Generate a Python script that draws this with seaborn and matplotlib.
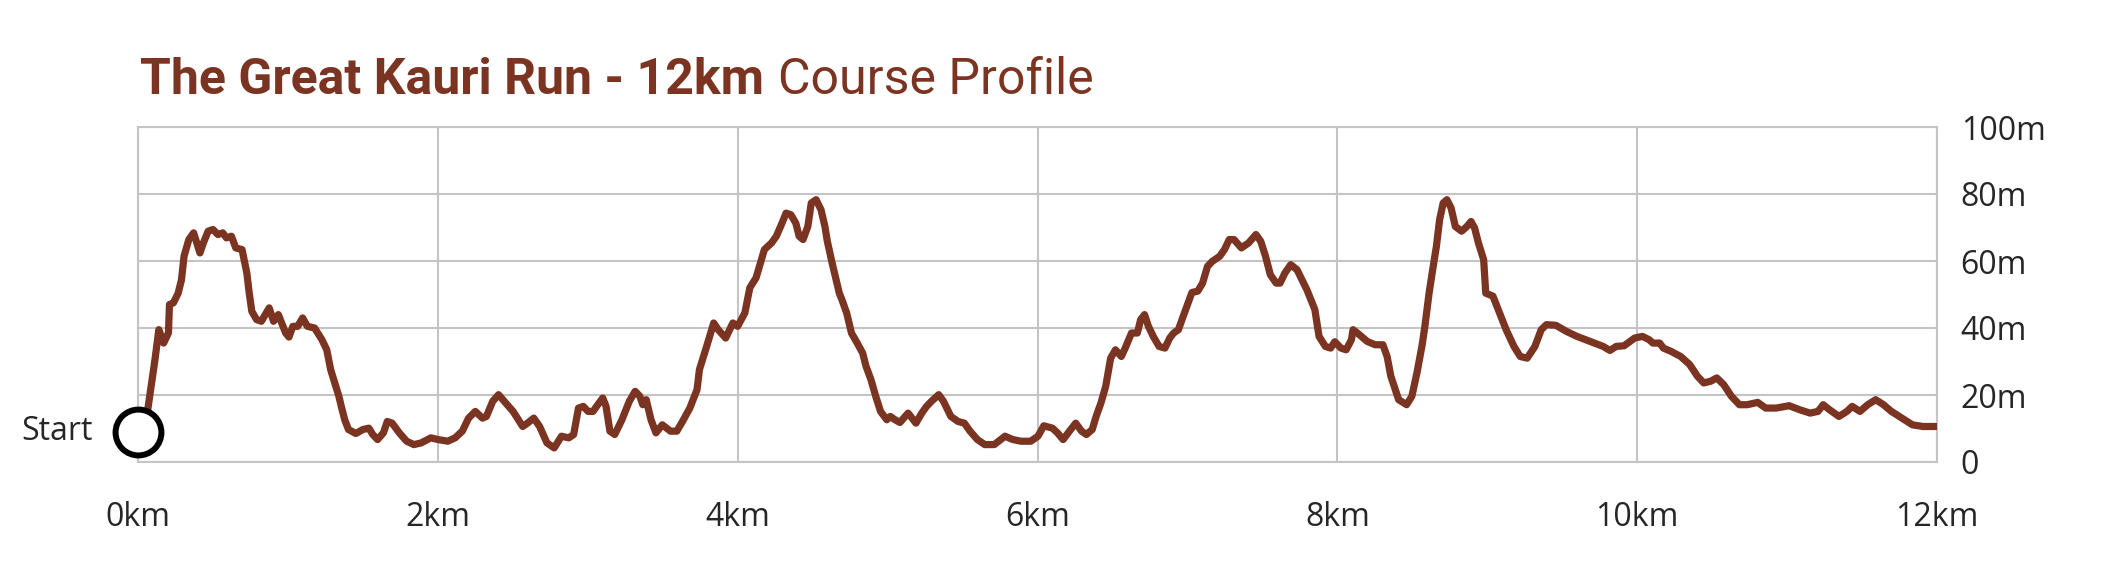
import matplotlib
matplotlib.use("Agg")
import matplotlib.pyplot as plt
import seaborn as sns

# course profile
distance_km = [
    0.0, 0.065, 0.113, 0.139, 0.171, 0.203, 0.21, 0.236, 0.268, 0.29, 0.307, 0.339, 0.371,
    0.413, 0.436, 0.468, 0.5, 0.533, 0.565, 0.59, 0.623, 0.652, 0.694, 0.726, 0.742, 0.759,
    0.791, 0.823, 0.849, 0.875, 0.904, 0.936, 0.985, 1.007, 1.033, 1.065, 1.098, 1.13, 1.178,
    1.227, 1.259, 1.285, 1.34, 1.356, 1.379, 1.404, 1.453, 1.5, 1.54, 1.566, 1.598, 1.637,
    1.663, 1.695, 1.743, 1.792, 1.84, 1.889, 1.953, 2.002, 2.066, 2.115, 2.163, 2.205, 2.25,
    2.298, 2.324, 2.366, 2.405, 2.453, 2.502, 2.566, 2.598, 2.64, 2.679, 2.728, 2.776, 2.825,
    2.873, 2.906, 2.938, 2.97, 3.002, 3.035, 3.067, 3.1, 3.122, 3.148, 3.18, 3.228, 3.277,
    3.316, 3.348, 3.367, 3.39, 3.422, 3.455, 3.497, 3.552, 3.594, 3.632, 3.681, 3.729, 3.745,
    3.793, 3.84, 3.87, 3.92, 3.968, 4.0, 4.048, 4.081, 4.123, 4.152, 4.178, 4.226, 4.258,
    4.291, 4.323, 4.355, 4.388, 4.41, 4.436, 4.468, 4.491, 4.523, 4.556, 4.582, 4.598, 4.63,
    4.678, 4.695, 4.727, 4.759, 4.791, 4.834, 4.856, 4.889, 4.921, 4.953, 4.995, 5.018, 5.05,
    5.082, 5.137, 5.189, 5.228, 5.26, 5.292, 5.341, 5.373, 5.422, 5.47, 5.512, 5.55, 5.599,
    5.648, 5.712, 5.783, 5.835, 5.89, 5.955, 6.003, 6.042, 6.1, 6.133, 6.171, 6.213, 6.255,
    6.294, 6.326, 6.365, 6.391, 6.423, 6.455, 6.488, 6.52, 6.559, 6.585, 6.627, 6.666, 6.688,
    6.714, 6.74, 6.772, 6.811, 6.85, 6.882, 6.908, 6.94, 6.972, 7.005, 7.03, 7.069, 7.101,
    7.134, 7.166, 7.215, 7.247, 7.279, 7.311, 7.36, 7.408, 7.457, 7.489, 7.521, 7.553, 7.592,
    7.618, 7.65, 7.689, 7.731, 7.797, 7.85, 7.878, 7.92, 7.955, 7.983, 8.024, 8.059, 8.094,
    8.105, 8.147, 8.199, 8.252, 8.304, 8.332, 8.357, 8.409, 8.462, 8.497, 8.531, 8.566, 8.584,
    8.612, 8.636, 8.661, 8.682, 8.706, 8.731, 8.759, 8.787, 8.829, 8.864, 8.892, 8.916, 8.941,
    8.976, 8.99, 9.038, 9.073, 9.126, 9.178, 9.22, 9.266, 9.318, 9.36, 9.395, 9.458, 9.528,
    9.598, 9.685, 9.773, 9.818, 9.86, 9.913, 9.983, 10.035, 10.08, 10.105, 10.15, 10.175,
    10.227, 10.29, 10.35, 10.402, 10.444, 10.49, 10.531, 10.577, 10.629, 10.682, 10.734,
    10.804, 10.857, 10.927, 11.014, 11.084, 11.154, 11.206, 11.241, 11.283, 11.346, 11.399,
    11.434, 11.486, 11.538, 11.591, 11.643, 11.696, 11.766, 11.836, 11.906, 11.993,
]
elevation_m = [
    9.0, 15.6, 30.5, 39.5, 35.5, 38.5, 47.0, 47.5, 50.4, 54.4, 61.4, 66.4, 68.4,
    62.4, 65.4, 68.9, 69.4, 67.9, 68.4, 66.9, 67.4, 63.9, 63.4, 56.4, 50.4, 45.0,
    42.5, 42.0, 44.0, 46.0, 42.0, 44.0, 38.5, 37.3, 40.5, 40.5, 43.0, 40.5, 40.0,
    36.5, 33.5, 27.6, 19.6, 16.6, 12.6, 9.7, 8.5, 9.7, 10.1, 8.2, 6.7, 8.7,
    12.1, 11.6, 8.7, 6.2, 5.2, 5.7, 7.2, 6.7, 6.2, 7.2, 9.2, 13.1, 15.1,
    13.1, 13.6, 18.1, 20.1, 17.6, 15.1, 10.6, 11.6, 13.1, 10.6, 5.7, 4.2, 7.7,
    7.2, 8.2, 16.1, 16.6, 15.1, 15.1, 17.1, 19.1, 16.6, 9.2, 8.2, 12.6, 18.1,
    21.1, 19.6, 17.1, 18.6, 12.6, 8.7, 11.1, 9.2, 9.2, 12.1, 16.1, 21.6, 27.6,
    34.5, 41.5, 39.5, 37.0, 41.5, 40.5, 44.5, 52.0, 55.0, 59.4, 63.4, 65.4, 67.4,
    70.8, 74.3, 73.8, 71.3, 67.4, 66.4, 70.3, 77.3, 78.3, 75.3, 70.3, 65.9, 59.4,
    50.4, 48.5, 44.5, 38.5, 36.0, 32.5, 28.6, 24.6, 19.6, 15.1, 12.6, 13.6, 12.6,
    11.8, 14.6, 11.6, 14.6, 16.6, 18.1, 20.1, 18.1, 13.6, 12.1, 11.6, 9.2, 6.7,
    5.2, 5.2, 7.7, 6.7, 6.2, 6.2, 7.7, 10.8, 10.1, 8.7, 6.7, 9.2, 11.6,
    9.2, 8.2, 9.7, 13.6, 17.6, 22.6, 31.0, 33.5, 31.5, 34.0, 38.5, 38.5, 42.5,
    44.0, 40.5, 37.5, 34.5, 34.0, 37.0, 38.5, 39.5, 43.5, 47.5, 50.6, 51.0, 53.4,
    58.4, 59.9, 61.4, 63.4, 66.4, 66.4, 63.9, 65.4, 67.9, 65.9, 61.4, 55.9, 53.4,
    53.4, 56.4, 58.9, 57.4, 51.4, 45.5, 37.5, 34.5, 34.0, 35.9, 34.0, 33.5, 36.5,
    39.5, 38.0, 36.0, 35.0, 35.0, 31.5, 25.6, 18.6, 17.1, 19.6, 26.6, 35.0, 40.5,
    50.4, 57.4, 64.4, 72.3, 77.3, 78.3, 75.8, 70.3, 68.9, 70.3, 71.8, 69.8, 65.4,
    60.4, 50.4, 49.5, 45.5, 39.5, 34.5, 31.5, 31.0, 34.5, 39.5, 41.0, 40.8, 39.0,
    37.5, 36.0, 34.5, 33.3, 34.5, 34.7, 37.0, 37.5, 36.5, 35.5, 35.5, 34.0,
    33.0, 31.5, 29.1, 25.6, 23.6, 24.1, 25.1, 23.1, 19.6, 17.1, 17.1,
    17.8, 16.1, 16.1, 16.8, 15.6, 14.6, 15.1, 17.1, 15.6, 13.6, 15.1,
    16.6, 15.1, 17.1, 18.6, 17.1, 15.1, 13.1, 11.1, 10.6, 10.6,
]
x_ticks = [0, 2, 4, 6, 8, 10, 12]
x_labels = ["0km", "2km", "4km", "6km", "8km", "10km", "12km"]
y_ticks = [0, 20, 40, 60, 80, 100]
y_labels = ["0", "20m", "40m", "60m", "80m", "100m"]
start_point = (0.0, 9.0)

BROWN = "#7B3421"
GRID = "#C4C4C4"

sns.set_style("white")
plt.rcParams["font.family"] = ["Open Sans", "DejaVu Sans"]

fig = plt.figure(figsize=(21.24, 5.72), dpi=100)
ax = fig.add_axes([138 / 2124, 110 / 572, 1799 / 2124, 335 / 572])

sns.lineplot(x=distance_km, y=elevation_m, color=BROWN, ax=ax, linewidth=5.2,
             sort=False, estimator=None, zorder=3)
for ln in ax.get_lines():
    ln.set_linewidth(5.2)
    ln.set_solid_joinstyle("round")
    ln.set_solid_capstyle("round")
sns.scatterplot(x=[start_point[0]], y=[start_point[1]], s=1090, facecolor="white",
                edgecolor="black", linewidth=4.3, ax=ax, zorder=4, clip_on=False)
ax.text(-0.3, start_point[1], "Start", ha="right", va="center", fontsize=23)

ax.set_xlim(0, 12)
ax.set_ylim(0, 100)
ax.set_xticks(x_ticks)
ax.set_xticklabels(x_labels, fontsize=23)
ax.set_yticks(y_ticks)
ax.set_yticklabels(y_labels, fontsize=23)
ax.yaxis.tick_right()
ax.tick_params(axis="x", length=0, pad=28)
ax.tick_params(axis="y", length=0, pad=17)
for lbl in ax.get_yticklabels():
    lbl.set_ha("left")
ax.grid(True, color=GRID, linewidth=1.5)
for sp in ax.spines.values():
    sp.set_color(GRID)
    sp.set_linewidth(1.5)
ax.set_xlabel("")
ax.set_ylabel("")

# title: bold part + regular part
title_font = ["Roboto", "DejaVu Sans"]
t1 = fig.text(140 / 2124, 1 - 94 / 572, "The Great Kauri Run - 12km", color=BROWN,
              fontsize=36, fontweight="bold", va="baseline", family=title_font)
fig.canvas.draw()
bb = t1.get_window_extent()
fig.text((bb.x1 + 14) / 2124, 1 - 94 / 572, "Course Profile", color=BROWN,
         fontsize=36, va="baseline", family=title_font)

fig.savefig("out.png", dpi=100)
